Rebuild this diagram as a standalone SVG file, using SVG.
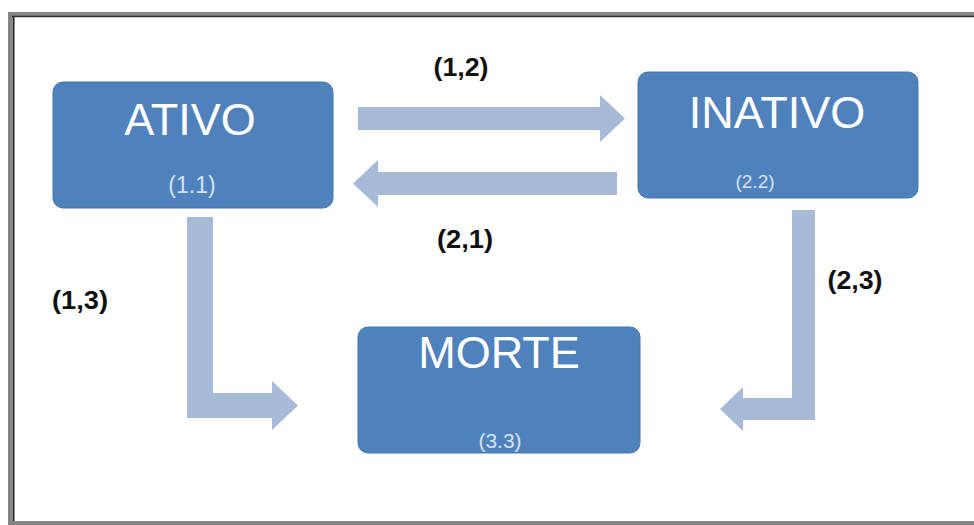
<svg xmlns="http://www.w3.org/2000/svg" width="974" height="525" viewBox="0 0 974 525">
  <style>
    .box { fill: #4f81bd; stroke: #4576b2; stroke-width: 1; }
    .title { font-family: "Liberation Sans", Arial, sans-serif; font-size: 45px; fill: #ffffff; text-anchor: middle; }
    .sub { font-family: "Liberation Sans", Arial, sans-serif; fill: #d7e1f0; text-anchor: middle; }
    .arrow { fill: #a7bbd9; }
    .lbl { font-family: "Liberation Sans", Arial, sans-serif; font-size: 25px; font-weight: bold; fill: #111111; text-anchor: middle; }
  </style>
  <rect x="0" y="0" width="974" height="525" fill="#ffffff"/>
  <g id="frame">
    <rect x="10" y="14" width="990" height="509" fill="#ffffff" stroke="#858585" stroke-width="4"/>
    <line x1="13.5" y1="16" x2="13.5" y2="521" stroke="#222222" stroke-width="2"/>
    <line x1="12" y1="16.5" x2="974" y2="16.5" stroke="#333333" stroke-width="1.5"/>
  </g>

  <g id="connectors">
    <g id="c12">
      <polygon class="arrow" points="358,107 600,107 600,95 625,118.5 600,142 600,130 358,130"/>
      <text class="lbl" x="461" y="76" textLength="55" lengthAdjust="spacingAndGlyphs">(1,2)</text>
    </g>
    <g id="c21">
      <polygon class="arrow" points="617,172 378,172 378,160 353,183.5 378,207 378,195 617,195"/>
      <text class="lbl" x="465" y="248" textLength="56" lengthAdjust="spacingAndGlyphs">(2,1)</text>
    </g>
    <g id="c13">
      <polygon class="arrow" points="187,217 213,217 213,393 272,393 272,381 298,405.5 272,430 272,418 187,418"/>
      <text class="lbl" x="80" y="309" textLength="56" lengthAdjust="spacingAndGlyphs">(1,3)</text>
    </g>
    <g id="c23">
      <polygon class="arrow" points="815,210 792,210 792,398 743,398 743,387 720,409 743,431 743,420 815,420"/>
      <text class="lbl" x="855" y="289" textLength="55" lengthAdjust="spacingAndGlyphs">(2,3)</text>
    </g>
  </g>

  <g id="ativo">
    <rect class="box" x="53" y="82" width="280" height="126" rx="10"/>
    <text class="title" x="190" y="135">ATIVO</text>
    <text class="sub" x="192" y="193" font-size="23">(1.1)</text>
  </g>
  <g id="inativo">
    <rect class="box" x="638" y="72" width="280" height="126" rx="10"/>
    <text class="title" x="777" y="128">INATIVO</text>
    <text class="sub" x="755" y="188" font-size="19">(2.2)</text>
  </g>
  <g id="morte">
    <rect class="box" x="358" y="327" width="282" height="126" rx="10"/>
    <text class="title" x="499" y="368">MORTE</text>
    <text class="sub" x="500" y="448" font-size="21">(3.3)</text>
  </g>
</svg>
